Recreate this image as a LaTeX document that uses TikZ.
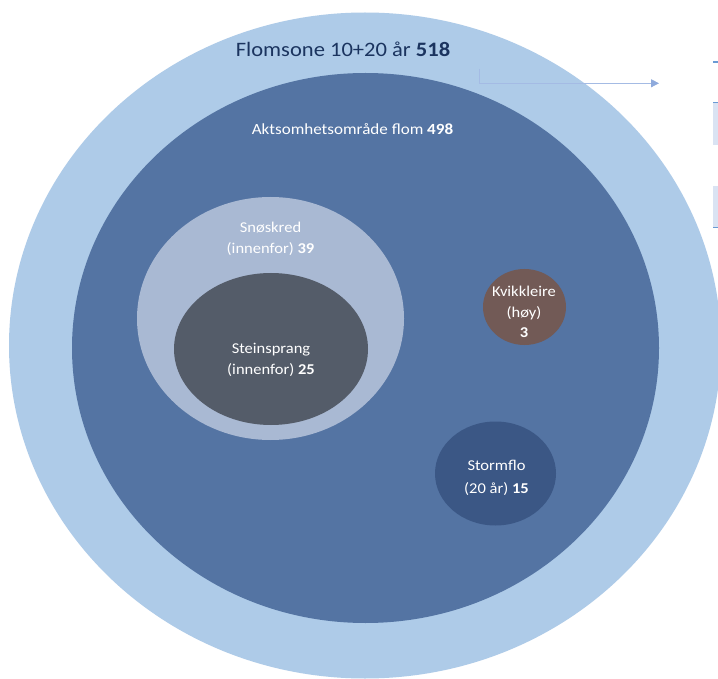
\documentclass[tikz,border=0pt]{standalone}
\usepackage{fontspec}
\setmainfont{Carlito}
\usetikzlibrary{shapes.geometric,arrows.meta}
\definecolor{outerc}{HTML}{AECBE8}
\definecolor{innerc}{HTML}{5474A3}
\definecolor{snoc}{HTML}{A9B9D3}
\definecolor{steinc}{HTML}{545C69}
\definecolor{kvikc}{HTML}{725A56}
\definecolor{stormc}{HTML}{3B5785}
\definecolor{navy}{HTML}{1B345F}
\definecolor{arrc}{HTML}{A4BBE4}
\definecolor{arrtip}{HTML}{8FAADC}
\definecolor{boxfill}{HTML}{DAE3F3}
\definecolor{boxline}{HTML}{6A9AD4}
\begin{document}
\begin{tikzpicture}[x=1pt,y=-1pt,
  blob/.style={ellipse, inner sep=0pt, outer sep=0pt, draw=none},
  lbl/.style={anchor=base, inner sep=0pt, text=white, xscale=1.1, transform shape, font=\fontsize{15}{18}\selectfont},
  biglbl/.style={anchor=base, inner sep=0pt, text=navy, xscale=1.1, transform shape, font=\fontsize{20.5}{24}\selectfont},
  midlbl/.style={anchor=base, inner sep=0pt, text=white, xscale=1.1, transform shape, font=\fontsize{15.5}{18}\selectfont}]
\useasboundingbox (0,0) rectangle (718,679);
\clip (0,0) rectangle (718,679);
\fill[white] (0,0) rectangle (718,679);
% ellipses
\node[blob, fill=outerc, minimum width=712pt, minimum height=666pt] (flom) at (365,345.5) {};
\node[blob, fill=innerc, minimum width=587pt, minimum height=550pt] (akt) at (365.5,348) {};
\node[blob, fill=snoc, minimum width=267pt, minimum height=243pt] (sno) at (270.5,318.5) {};
\node[blob, fill=steinc, minimum width=194pt, minimum height=152pt] (stein) at (271,349) {};
\node[blob, fill=kvikc, minimum width=83pt, minimum height=76pt] (kvik) at (524.5,307) {};
\node[blob, fill=stormc, minimum width=121pt, minimum height=104pt] (storm) at (495.5,473.5) {};
% labels
\node[biglbl] (tflom) at (343,57) {Flomsone 10+20 år \textbf{518}};
\node[midlbl] (takt) at (352.5,134.5) {Aktsomhetsområde flom \textbf{498}};
\node[lbl] (tsno1) at (270.5,233) {Snøskred};
\node[lbl] (tsno2) at (270.5,253.5) {(innenfor) \textbf{39}};
\node[lbl] (tstein1) at (271,353) {Steinsprang};
\node[lbl] (tstein2) at (271,374) {(innenfor) \textbf{25}};
\node[lbl] (tkvik1) at (524,296.5) {Kvikkleire};
\node[lbl] (tkvik2) at (524,317.5) {(høy)};
\node[lbl] (tkvik3) at (524,337.5) {\textbf{3}};
\node[lbl] (tstorm1) at (496.5,470.5) {Stormflo};
\node[lbl] (tstorm2) at (496.5,493) {(20 år) \textbf{15}};
% connector
\coordinate (a0) at (479,69);
\coordinate (a1) at (659,83.3);
\draw[arrc, line width=0.8pt, -{Triangle[length=8pt,width=8pt,color=arrtip]}] (a0) |- (a1);
% partial elements at right edge
\draw[boxline, line width=1.3pt] (713,62) -- (719,62);
\fill[boxfill] (713,102) rectangle (719,145);
\draw[boxline, line width=1.3pt] (713,102.5) -- (719,102.5);
\fill[boxfill] (713,186) rectangle (719,228);
\draw[boxline, line width=1.3pt] (713,227.5) -- (719,227.5);
\end{tikzpicture}
\end{document}
